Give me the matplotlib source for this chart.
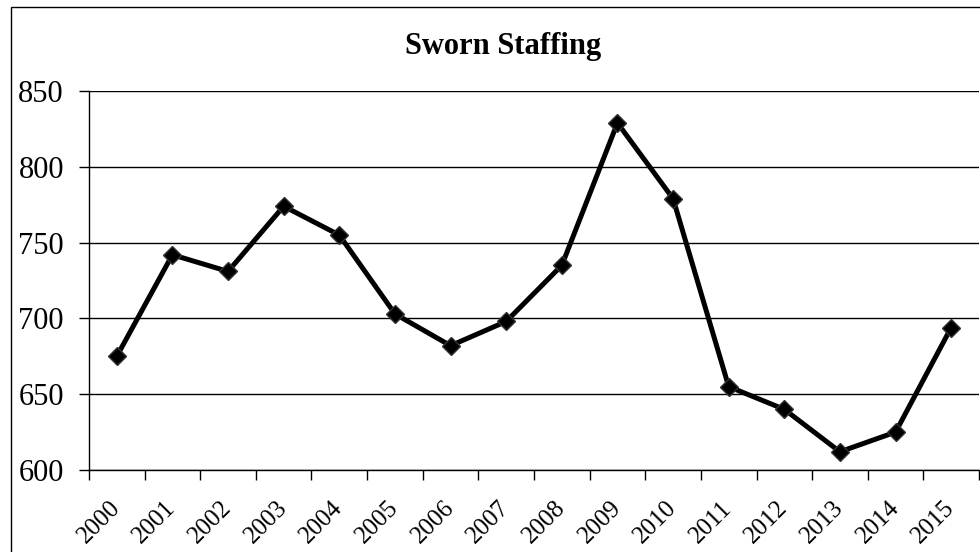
import matplotlib
matplotlib.use("Agg")
import matplotlib.pyplot as plt
from matplotlib.patches import Rectangle

# ── Data ────────────────────────────────────────────────
years = ["2000", "2001", "2002", "2003", "2004", "2005", "2006", "2007",
         "2008", "2009", "2010", "2011", "2012", "2013", "2014", "2015"]
sworn = [675, 742, 731, 774, 755, 703, 682, 698,
         735, 829, 779, 655, 640, 612, 625, 694]

plt.rcParams["font.family"] = ["Liberation Serif", "DejaVu Serif"]

fig = plt.figure(figsize=(9.8, 5.52), dpi=100)
ax = fig.add_axes([0.0908, 0.1486, 0.9082, 0.6864])

x = list(range(len(years)))
ax.plot(x, sworn, color="black", linewidth=3.6, marker="D", markersize=9,
        markerfacecolor="black", markeredgecolor="#333333", zorder=3)

ax.set_ylim(600, 850)
ax.set_yticks(range(600, 851, 50))
ax.set_xlim(-0.5, len(years) - 0.5)
ax.set_xticks(x)
ax.set_xticklabels(years, rotation=45, ha="right", va="center", rotation_mode="anchor",
                   fontsize=18)
ax.set_xticks([i - 0.5 for i in range(len(years) + 1)], minor=True)
ax.tick_params(axis="x", which="major", length=0, pad=25)
ax.tick_params(axis="x", which="minor", length=7, width=1, direction="out")
ax.tick_params(axis="y", length=7, width=1, direction="out", labelsize=22, pad=11)

ax.grid(axis="y", color="black", linewidth=1)
for side in ["top", "right"]:
    ax.spines[side].set_visible(False)
ax.spines["left"].set_linewidth(1)
ax.spines["bottom"].set_linewidth(1)

fig.text(0.513, 0.902, "Sworn Staffing", ha="center", va="baseline",
         fontsize=22, fontweight="bold")

# outer chart frame
fig.patches.append(Rectangle((0.011, -0.05), 1.2, 0.988 + 0.05,
                             transform=fig.transFigure, fill=False,
                             edgecolor="black", linewidth=1))

fig.savefig("out.png", dpi=100)
